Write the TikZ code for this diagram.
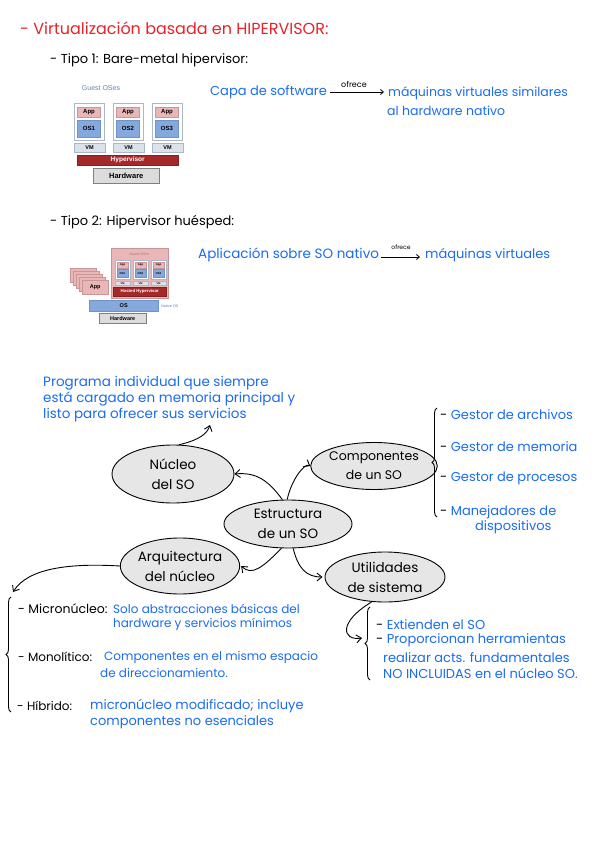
\documentclass[tikz,border=0pt]{standalone}
\usepackage{fontspec}
\setmainfont{Poppins}
\newfontfamily\diagfont{Liberation Sans}
\usetikzlibrary{arrows.meta,shapes.geometric,decorations.pathreplacing}
\definecolor{hblue}{HTML}{1A6CF0}
\definecolor{hred}{HTML}{E8232B}
\definecolor{ellfill}{HTML}{E6E6E6}
\definecolor{apppink}{HTML}{E9B7B7}
\definecolor{appedge}{HTML}{C99595}
\definecolor{osblue}{HTML}{86A9DD}
\definecolor{osedge}{HTML}{6F93C8}
\definecolor{vmgray}{HTML}{DCE2EA}
\definecolor{boxedge}{HTML}{A9B8CB}
\definecolor{hypred}{HTML}{A3292B}
\definecolor{hwgray}{HTML}{DCDCDC}
\definecolor{guestblue}{HTML}{6584AE}
\begin{document}
\begin{tikzpicture}[x=1pt,y=-1pt,
  every node/.style={inner sep=0pt},
  hand/.style={anchor=west,font=\fontsize{13}{16}\selectfont},
  handsm/.style={anchor=west,font=\fontsize{12}{15}\selectfont},
  bluetext/.style={hand,text=hblue},
  bluesm/.style={handsm,text=hblue},
  blacktext/.style={hand,text=black},
  ell/.style={ellipse,draw=black,line width=0.9pt,fill=ellfill,align=center,
    font=\fontsize{13.5}{20}\selectfont},
  arr/.style={line width=0.9pt,-{Straight Barb[length=5pt,width=8pt]}},
  smallarr/.style={line width=0.8pt,-{Straight Barb[length=3pt,width=5pt]}},
  brc/.style={line width=0.9pt,decorate,decoration={brace,amplitude=5pt}},
  outerbox/.style={draw=boxedge,fill=white,line width=0.6pt},
  appbox/.style={draw=appedge,fill=apppink,line width=0.4pt,font=\diagfont\bfseries\fontsize{6}{6}\selectfont},
  osbox/.style={draw=osedge,fill=osblue,line width=0.4pt,font=\diagfont\bfseries\fontsize{6}{6}\selectfont},
  vmbox/.style={draw=boxedge,fill=vmgray,line width=0.4pt,font=\diagfont\bfseries\fontsize{5.5}{6}\selectfont},
  hypbox/.style={draw=hypred!80!black,fill=hypred,text=white,font=\diagfont\bfseries\fontsize{6.5}{7}\selectfont},
  hwbox/.style={draw=gray,fill=hwgray,line width=0.5pt,font=\diagfont\bfseries\fontsize{7.5}{8}\selectfont},
]
\path[use as bounding box,fill=white] (0,0) rectangle (600,848);

% ---------- Titles ----------
\node[hand,text=hred,font=\fontsize{16}{18}\selectfont] (title) at (20,28) {- Virtualización basada en HIPERVISOR:};
\node[blacktext] (tipo1) at (50,60) {- Tipo 1: Bare-metal hipervisor:};

% ---------- Type 1 diagram ----------
\node[font=\diagfont\fontsize{7}{8}\selectfont,text=guestblue] (guest1) at (101,88) {Guest OSes};
\foreach \i/\x in {1/74,2/113,3/152}{
  \node[outerbox,minimum width=30,minimum height=37,anchor=north west] (ob\i) at (\x,103) {};
  \node[appbox,minimum width=23,minimum height=10,anchor=north] (app\i) at (\x+15,107) {App};
  \node[osbox,minimum width=23,minimum height=17,anchor=north] (os\i) at (\x+15,120) {OS\i};
  \node[vmbox,minimum width=31,minimum height=9,anchor=north] (vm\i) at (\x+15.5,143) {VM};
}
\node[hypbox,minimum width=101,minimum height=10,anchor=north west] (hyp1) at (77,155) {Hypervisor};
\node[hwbox,minimum width=66,minimum height=15,anchor=north west] (hw1) at (93,168) {Hardware};

\node[bluetext] (capa) at (210,92) {Capa de software};
\node[bluesm,font=\fontsize{12.5}{15}\selectfont] (maq1) at (388,93) {máquinas virtuales similares};
\node[bluesm,font=\fontsize{12.5}{15}\selectfont] (maq2) at (387,111) {al hardware nativo};
\draw[smallarr,shorten <=3pt,shorten >=4pt] (capa.east) -- (capa.east -| maq1.west);
\node[font=\fontsize{8}{8}\selectfont,anchor=south] (ofrece1) at (354,88) {ofrece};

% ---------- Type 2 ----------
\node[blacktext] (tipo2) at (50,222) {- Tipo 2: Hipervisor huésped:};
\node[draw=appedge,fill=apppink,line width=0.6pt,minimum width=57,minimum height=50,anchor=north west] (guestbig) at (111,248) {};
\node[font=\diagfont\fontsize{3.6}{4}\selectfont,text=appedge!80!black] (guest2) at (139.5,254) {Guest OSes};
\foreach \i/\x in {1/115,2/133,3/151}{
  \node[outerbox,line width=0.4pt,minimum width=15,minimum height=19,anchor=north west] (mb\i) at (\x,260) {};
  \node[draw=appedge,fill=apppink,line width=0.3pt,minimum width=11,minimum height=6,anchor=north,font=\diagfont\bfseries\fontsize{2.8}{3}\selectfont] (mapp\i) at (\x+7.5,262) {App};
  \node[draw=osedge,fill=osblue,line width=0.3pt,minimum width=11,minimum height=8,anchor=north,font=\diagfont\bfseries\fontsize{2.8}{3}\selectfont] (mos\i) at (\x+7.5,269) {OS\i};
  \node[draw=boxedge,fill=vmgray,line width=0.3pt,minimum width=15,minimum height=4,anchor=north,font=\diagfont\bfseries\fontsize{2.5}{3}\selectfont] (mvm\i) at (\x+7.5,281) {VM};
}
\node[hypbox,minimum width=53,minimum height=9,anchor=north west,font=\diagfont\bfseries\fontsize{4.3}{5}\selectfont] (hyp2) at (113,287) {Hosted Hypervisor};
\foreach \k/\dx in {5/-12,4/-9,3/-6,2/-3}{
  \node[draw=appedge,fill=apppink,line width=0.5pt,minimum width=26,minimum height=14,anchor=north west] (card\k) at (82+\dx,280+\dx) {};
}
\node[draw=appedge,fill=apppink,line width=0.5pt,minimum width=26,minimum height=14,anchor=north west,font=\diagfont\bfseries\fontsize{5.5}{6}\selectfont] (card1) at (82,280) {App};
\node[draw=osedge,fill=osblue,line width=0.4pt,minimum width=69,minimum height=11,anchor=north west,font=\diagfont\bfseries\fontsize{5.5}{6}\selectfont] (os2) at (89,300) {OS};
\node[anchor=west,font=\diagfont\fontsize{3.8}{4}\selectfont,text=osblue!80!black] (native) at (161,306) {Native OS};
\node[hwbox,minimum width=47,minimum height=10,anchor=north west,font=\diagfont\bfseries\fontsize{5.5}{6}\selectfont] (hw2) at (99,313) {Hardware};

\node[bluetext,font=\fontsize{13.5}{16}\selectfont] (apl) at (198,255) {Aplicación sobre SO nativo};
\node[bluetext] (maqv) at (425,255) {máquinas virtuales};
\draw[smallarr,shorten <=2pt,shorten >=5pt] ([yshift=-2pt]apl.east) -- ([yshift=-2pt]apl.east -| maqv.west);
\node[font=\fontsize{6}{6}\selectfont,anchor=south] (ofrece2) at (401,250) {ofrece};

% ---------- Mind map ----------
\node[bluetext,align=left,font=\fontsize{13.5}{16}\selectfont] (prog) at (43,399) {Programa individual que siempre\\ está cargado en memoria principal y\\ listo para ofrecer sus servicios};

\node[ell,minimum width=122,minimum height=58] (nuc) at (173,474) {Núcleo\\ del SO};
\node[ell,minimum width=128,minimum height=48] (estr) at (288,524) {Estructura\\ de un SO};
\node[ell,minimum width=104,minimum height=47,font=\fontsize{12.5}{19}\selectfont] (comp) at (374,466) {Componentes\\ de un SO};
\node[ell,minimum width=116,minimum height=56] (arq) at (180,566) {Arquitectura\\ del núcleo};
\node[ell,minimum width=120,minimum height=50] (util) at (385,577) {Utilidades\\ de sistema};

\coordinate (progtip) at (210,425);
\draw[arr] (nuc.78) .. controls (199,440) and (207,434) .. (progtip);
\draw[arr] (estr.103) .. controls (268,480) and (256,472) .. (nuc.east);
\draw[arr] (estr.92) .. controls (292,478) and (305,463) .. (comp.west);
\draw[arr] (estr.255) .. controls (262,568) and (252,576) .. ([xshift=1pt]arq.east);
\draw[arr] (estr.282) .. controls (298,568) and (306,577) .. ([xshift=-2pt]util.west);
\coordinate (arqtip) at (13,592);
\draw[arr] (arq.west) .. controls (70,563) and (28,568) .. (arqtip);
\coordinate (utiltip) at (362,638);
\draw[arr] (util.242) .. controls (338,622) and (342,641) .. (utiltip);

% Components list
\coordinate (cb1) at (437,517);
\coordinate (cb2) at (437,408);
\draw[brc] (cb1) -- (cb2);
\node[bluetext] (g1) at (440,415) {\textcolor{black}{-} Gestor de archivos};
\node[bluetext] (g2) at (440,447) {\textcolor{black}{-} Gestor de memoria};
\node[bluetext] (g3) at (440,478) {\textcolor{black}{-} Gestor de procesos};
\node[bluetext] (g4) at (440,512) {\textcolor{black}{-} Manejadores de};
\node[bluetext] (g5) at (475,527) {dispositivos};

% Architecture list
\coordinate (ab1) at (11,712);
\coordinate (ab2) at (11,597);
\draw[brc] (ab1) -- (ab2);
\node[blacktext,font=\fontsize{12.5}{15}\selectfont] (mic) at (18,609) {- Micronúcleo:};
\node[bluesm] (mic1) at (113,609) {Solo abstracciones básicas del};
\node[bluesm] (mic2) at (113,624) {hardware y servicios mínimos};
\node[blacktext,font=\fontsize{12}{15}\selectfont] (mono) at (18,657) {- Monolítico:};
\node[bluesm] (mono1) at (104,657) {Componentes en el mismo espacio};
\node[bluesm] (mono2) at (100,673) {de direccionamiento.};
\node[blacktext,font=\fontsize{12}{15}\selectfont] (hib) at (17,706) {- Híbrido:};
\node[bluetext] (hib1) at (90,706) {micronúcleo modificado; incluye};
\node[bluetext] (hib2) at (90,722) {componentes no esenciales};

% Utilities list
\coordinate (ub1) at (370,680);
\coordinate (ub2) at (370,607);
\draw[brc] (ub1) -- (ub2);
\node[bluetext] (u1) at (376,625) {\textcolor{black}{-} Extienden el SO};
\node[bluetext] (u2) at (376,640) {\textcolor{black}{-} Proporcionan herramientas};
\node[bluetext] (u3) at (383,658) {realizar acts. fundamentales};
\node[bluetext] (u4) at (383,673) {NO INCLUIDAS en el núcleo SO.};
\end{tikzpicture}
\end{document}
